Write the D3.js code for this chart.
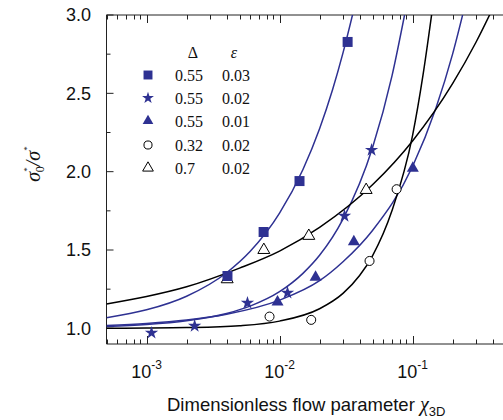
<!DOCTYPE html>
<html>
<head>
<meta charset="utf-8">
<script src="https://cdn.jsdelivr.net/npm/d3@7"></script>
<style>
  body { margin: 0; background: #fff; }
  svg { display: block; }
</style>
</head>
<body>
<div id="chart"></div>
<script>
// Measured points (chi_3D, sigma0*/sigma*)
const squares   = [[0.00406, 1.334], [0.00759, 1.615], [0.01413, 1.94], [0.0325, 2.828]];
const stars     = [[0.00109, 0.971], [0.0023, 1.015], [0.00574, 1.162], [0.01148, 1.226], [0.0308, 1.717], [0.0492, 2.138]];
const triangles = [[0.00966, 1.168], [0.01866, 1.326], [0.0362, 1.553], [0.1005, 2.022]];
const circles   = [[0.00841, 1.075], [0.0173, 1.054], [0.0475, 1.43], [0.0759, 1.888]];
const openTris  = [[0.00404, 1.313], [0.00762, 1.50], [0.0166, 1.59], [0.0448, 1.883]];

// Fitted curves
const fitSquare = [[5e-4, 1.068], [0.001, 1.118], [0.002, 1.205], [0.004, 1.355], [0.006, 1.49],
  [0.01, 1.735], [0.015, 2.014], [0.02, 2.274], [0.025, 2.521], [0.03, 2.758], [0.036, 3.027]];
const fitStar = [[5e-4, 1.012], [0.001, 1.024], [0.002, 1.048], [0.004, 1.095], [0.006, 1.142],
  [0.01, 1.234], [0.015, 1.351], [0.02, 1.466], [0.03, 1.697], [0.05, 2.153], [0.07, 2.61], [0.0871, 3.0]];
const fitTriangle = [[5e-4, 1.018], [0.001, 1.031], [0.002, 1.053], [0.004, 1.09], [0.01, 1.18],
  [0.02, 1.304], [0.03, 1.425], [0.05, 1.625], [0.1, 2.033], [0.15, 2.406], [0.2, 2.75], [0.238, 3.0]];
const fitCircle = [[5e-4, 1.001], [0.001, 1.002], [0.002, 1.005], [0.005, 1.017], [0.01, 1.046],
  [0.02, 1.125], [0.03, 1.223], [0.04, 1.337], [0.05, 1.463], [0.07, 1.75], [0.1, 2.23],
  [0.12, 2.619], [0.14, 3.018]];
const fitOpenTri = [[5e-4, 1.156], [0.001, 1.203], [0.002, 1.265], [0.005, 1.384], [0.01, 1.493],
  [0.02, 1.644], [0.05, 1.916], [0.1, 2.196], [0.2, 2.562], [0.3, 2.826], [0.4, 3.04]];

const legendDelta = ['0.55', '0.55', '0.55', '0.32', '0.7'];
const legendEps   = ['0.03', '0.02', '0.01', '0.02', '0.02'];

const yTicks = [1.0, 1.5, 2.0, 2.5, 3.0];
const yMinor = [1.25, 1.75, 2.25, 2.75];
const xDecades = [1e-3, 1e-2, 1e-1];
const xExponents = ['-3', '-2', '-1'];

const BLUE = '#2e3192';
const SANS = '"Liberation Sans", Arial, sans-serif';
const SERIF = '"Liberation Serif", "Times New Roman", serif';
const W = 503, H = 420;

const svg = d3.select('#chart').append('svg').attr('width', W).attr('height', H);

const x = d3.scaleLog().domain([5e-4, 0.5]).range([106.5, 505.5]);
const y = d3.scaleLinear().domain([0.9, 3.0]).range([344, 15]);
const [pLeft, pRight] = x.range();
const [pBottom, pTop] = y.range();

const frame = svg.append('g').attr('stroke', '#222').attr('stroke-width', 1).attr('fill', 'none');

// Axis lines: left, bottom, top
frame.append('line').attr('x1', pLeft).attr('x2', pLeft).attr('y1', pTop).attr('y2', pBottom);
frame.append('line').attr('x1', pLeft).attr('x2', pRight).attr('y1', pBottom).attr('y2', pBottom);
frame.append('line').attr('x1', pLeft).attr('x2', pRight).attr('y1', pTop).attr('y2', pTop);

// X ticks (inward on bottom and top)
const xAll = [];
[1e-4, 1e-3, 1e-2, 1e-1].forEach(d => {
  for (let k = 1; k <= 9; k++) {
    const v = d * k;
    if (v >= 5e-4 && v <= 0.5) xAll.push({ v, major: k === 1 });
  }
});
xAll.forEach(t => {
  const px = Math.round(x(t.v)) + 0.5;
  const len = t.major ? 8 : 4.5;
  frame.append('line').attr('x1', px).attr('x2', px).attr('y1', pBottom).attr('y2', pBottom - len);
  frame.append('line').attr('x1', px).attr('x2', px).attr('y1', pTop).attr('y2', pTop + len);
});

// Y ticks (inward)
yTicks.forEach(v => {
  frame.append('line').attr('x1', pLeft).attr('x2', pLeft + 7).attr('y1', y(v)).attr('y2', y(v));
});
yMinor.forEach(v => {
  frame.append('line').attr('x1', pLeft).attr('x2', pLeft + 4).attr('y1', y(v)).attr('y2', y(v));
});

// Y tick labels
svg.append('g').selectAll('text').data(yTicks).enter().append('text')
  .style('font-family', SANS)
  .attr('x', 91).attr('y', d => y(d)).attr('dy', '0.36em')
  .attr('text-anchor', 'end')
  .attr('font-size', 18)
  .attr('fill', '#111')
  .text(d => d.toFixed(1));

// X tick labels 10^n
xDecades.forEach((v, i) => {
  const t = svg.append('text')
    .style('font-family', SANS)
    .attr('x', x(v)).attr('y', 378)
    .attr('text-anchor', 'middle')
    .attr('font-size', 18)
    .attr('fill', '#111');
  t.append('tspan').text('10');
  t.append('tspan').attr('font-size', 12).attr('dy', -9).text(xExponents[i]);
});

// X axis title
const xt = svg.append('text').style('font-family', SANS).attr('x', 167).attr('y', 411)
  .attr('font-size', 18.5).attr('fill', '#111');
xt.append('tspan').text('Dimensionless flow parameter ');
xt.append('tspan').style('font-family', SERIF)
  .attr('font-style', 'italic').attr('font-size', 20).text('χ');
xt.append('tspan').attr('font-size', 13).attr('dy', 5).text('3D');

// Y axis title
const yt = svg.append('text')
  .style('font-family', SERIF)
  .attr('transform', 'translate(40,164) rotate(-90)')
  .attr('text-anchor', 'middle')
  .attr('font-style', 'italic').attr('font-size', 20).attr('fill', '#111');
yt.append('tspan').text('σ');
yt.append('tspan').attr('font-size', 9).attr('dy', -10).attr('font-style', 'normal').text('*');
yt.append('tspan').attr('font-size', 12).attr('dx', -5).attr('dy', 14).attr('font-style', 'normal').text('0');
yt.append('tspan').attr('dy', -4).text('/σ');
yt.append('tspan').attr('font-size', 9).attr('dy', -10).attr('font-style', 'normal').text('*');

// Curves
const plot = svg.append('g');
plot.append('defs').append('clipPath').attr('id', 'clip')
  .append('rect').attr('x', pLeft).attr('y', pTop).attr('width', pRight - pLeft).attr('height', pBottom - pTop);
const curves = plot.append('g').attr('clip-path', 'url(#clip)');
const line = d3.line().x(d => x(d[0])).y(d => y(d[1])).curve(d3.curveMonotoneX);
[
  [fitSquare, BLUE], [fitStar, BLUE], [fitTriangle, BLUE],
  [fitCircle, '#000'], [fitOpenTri, '#000'],
].forEach(([data, color]) => {
  curves.append('path').datum(data).attr('d', line)
    .attr('fill', 'none').attr('stroke', color).attr('stroke-width', 1.5);
});

// Markers
const sym = {
  square:   { type: d3.symbolSquare,   size: 100, fill: BLUE, stroke: 'none' },
  star:     { type: d3.symbolStar,     size: 55,  fill: BLUE, stroke: 'none' },
  triangle: { type: d3.symbolTriangle, size: 62,  fill: BLUE, stroke: 'none' },
  circle:   { type: d3.symbolCircle,   size: 64,  fill: '#fff', stroke: '#000' },
  openTri:  { type: d3.symbolTriangle, size: 62,  fill: '#fff', stroke: '#000' },
};
function drawMarkers(data, s) {
  plot.append('g').selectAll('path').data(data).enter().append('path')
    .attr('transform', d => `translate(${x(d[0])},${y(d[1])})`)
    .attr('d', d3.symbol().type(s.type).size(s.size))
    .attr('fill', s.fill).attr('stroke', s.stroke).attr('stroke-width', 1);
}
drawMarkers(openTris, sym.openTri);
drawMarkers(circles, sym.circle);
drawMarkers(squares, sym.square);
drawMarkers(stars, sym.star);
drawMarkers(triangles, sym.triangle);

// Legend
const legend = svg.append('g');
const legendText = (px, py, str) => legend.append('text')
  .style('font-family', SERIF).attr('font-size', 16).attr('fill', '#111')
  .attr('x', px).attr('y', py).text(str);
legendText(193, 58, 'Δ').attr('text-anchor', 'middle');
legendText(234, 58, 'ε').attr('text-anchor', 'middle').attr('font-style', 'italic');
const legendSyms = [sym.square, sym.star, sym.triangle, sym.circle, sym.openTri];
const rowY = [75, 98, 121, 145, 168];
legendSyms.forEach((s, i) => {
  legend.append('path')
    .attr('transform', `translate(148,${rowY[i]})`)
    .attr('d', d3.symbol().type(s.type).size(s.size * 0.8))
    .attr('fill', s.fill).attr('stroke', s.stroke).attr('stroke-width', 1);
  legendText(175, rowY[i] + 5.5, legendDelta[i]);
  legendText(222, rowY[i] + 5.5, legendEps[i]);
});
</script>
</body>
</html>
